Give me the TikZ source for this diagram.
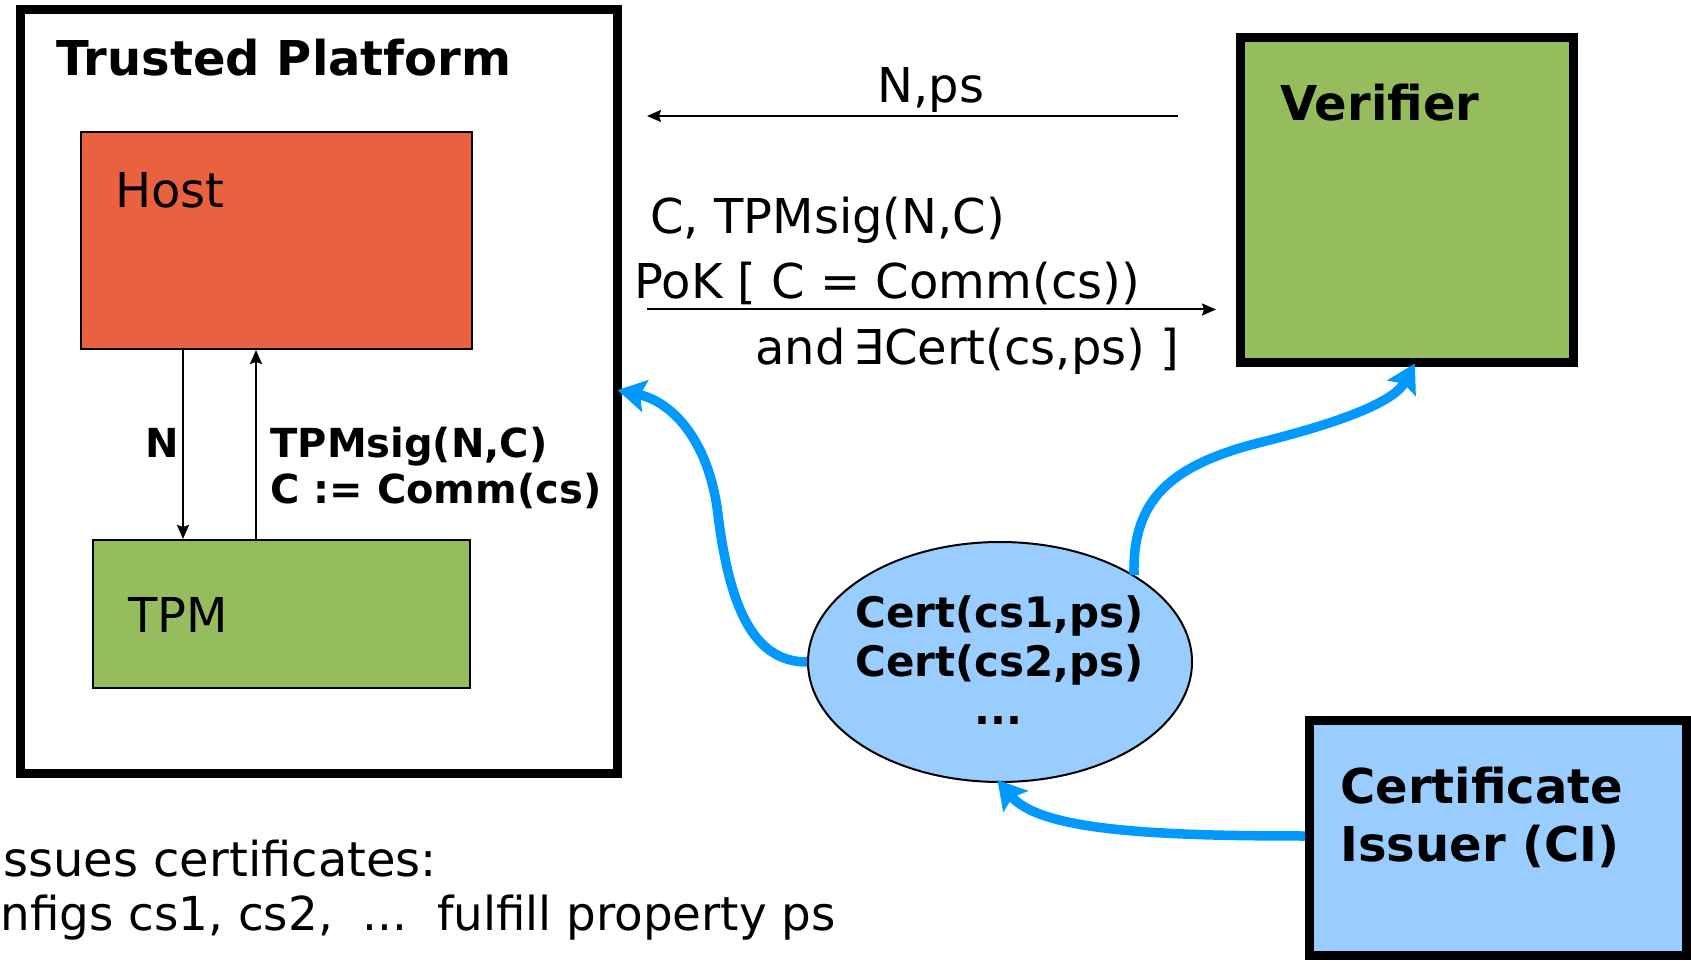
\documentclass[tikz,border=0pt]{standalone}
\usepackage{fontspec}
\setmainfont{DejaVu Sans}
\usetikzlibrary{arrows.meta,shapes.geometric}
\definecolor{hostred}{HTML}{EA6140}
\definecolor{tpmgreen}{HTML}{95BD5E}
\definecolor{certblue}{HTML}{99CCFF}
\definecolor{flowblue}{HTML}{0099FF}
\tikzset{
  heavybox/.style={draw=black, line width=4.5pt, rectangle, inner sep=0pt},
  thinbox/.style={draw=black, line width=1pt, rectangle, inner sep=0pt},
  lbl/.style={inner sep=0pt, anchor=base west},
  clbl/.style={inner sep=0pt, anchor=base},
  txt/.style={font=\fontsize{24}{28}\selectfont},
  ntxt/.style={font=\fontsize{23.4}{28}\selectfont},
  btxt/.style={font=\fontsize{24}{28}\selectfont\bfseries},
  stxt/.style={font=\fontsize{20}{24}\selectfont\bfseries},
  cbtxt/.style={font=\fontsize{24}{28}\selectfont\bfseries},
  etxt/.style={font=\fontsize{21}{25}\selectfont\bfseries},
  msg/.style={draw=black, line width=1pt, -{Stealth[length=7pt,width=6pt,inset=1pt]}},
  flow/.style={draw=flowblue, line width=4.75pt, shorten >=-2pt,
    -{Stealth[length=14pt,width=16pt,inset=2.5pt]}},
}
\begin{document}
\begin{tikzpicture}[x=0.5pt,y=-0.5pt]
\path[use as bounding box, fill=white] (0,0) rectangle (1691,961);

% trusted platform with host and TPM
\node[heavybox, minimum width=298.25pt, minimum height=381.5pt] (tp) at (318.75,391.5) {};
\node[lbl, btxt] (tptitle) at (56,75.5) {Trusted Platform};
\node[thinbox, fill=hostred, minimum width=195.5pt, minimum height=108.5pt] (host) at (276.5,240.5) {};
\node[lbl, txt] (hostlbl) at (115,208) {Host};
\node[thinbox, fill=tpmgreen, minimum width=188.5pt, minimum height=74pt] (tpm) at (281.5,614) {};
\node[lbl, txt] (tpmlbl) at (128,633) {TPM};

\coordinate (nx) at (183,0);
\coordinate (sx) at (256,0);
\draw[msg] (nx |- host.south) -- (nx |- tpm.north);
\draw[msg] (sx |- tpm.north) -- (sx |- host.south);
\node[lbl, stxt] (nlbl) at (145,458) {N};
\node[lbl, stxt] (sig1) at (270,458) {TPMsig(N,C)};
\node[lbl, stxt] (sig2) at (270,504) {C := Comm(cs)};

% verifier and protocol messages
\node[heavybox, fill=tpmgreen, minimum width=166.5pt, minimum height=162.5pt] (ver) at (1407,200) {};
\node[lbl, btxt] (verlbl) at (1280,121) {Verifier};

\coordinate (npsR) at (1178,116);
\coordinate (npsL) at (647,116);
\draw[msg] (npsR) -- (npsL);
\node[clbl, txt] (npslbl) at (931,102.5) {N,ps};

\coordinate (pokL) at (647,309.5);
\coordinate (pokR) at (1216,309.5);
\draw[msg] (pokL) -- (pokR);
\node[lbl, txt] (m1) at (650,234) {C, TPMsig(N,C)};
\node[lbl, txt] (m2) at (634,299) {PoK [ C = Comm(cs))};
\node[lbl, txt] (m3) at (755,364.5) {and\,∃Cert(cs,ps) ]};

% certificates and issuer
\node[ellipse, draw=black, line width=1pt, fill=certblue, minimum width=192pt, minimum height=120pt, inner sep=0pt] (cert) at (1000,662) {};
\node[clbl, etxt] (c1) at (999.5,628) {Cert(cs1,ps)};
\node[clbl, etxt] (c2) at (999.5,676) {Cert(cs2,ps)};
\node[clbl, etxt] (c3) at (998.5,725) {...};

\node[heavybox, fill=certblue, minimum width=188.5pt, minimum height=117.5pt] (ci) at (1498,838) {};
\node[lbl, cbtxt] (ci1) at (1340,803) {Certificate};
\node[lbl, cbtxt] (ci2) at (1340,861) {Issuer (CI)};

\node[lbl, txt] (b1) at (3,876) {ssues certificates:};
\node[lbl, ntxt] (b2) at (0,930) {nfigs cs1, cs2,\ \ ...\ \ fulfill property ps};

% certificate flows
\coordinate (tpy) at (0,391);
\coordinate (vx) at (1413,0);
\coordinate (ciy) at (0,836);
\draw[flow] (cert.west) .. controls (750,662) and (728,600) .. (717,507)
  .. controls (705,430) and (665,400) .. (tp.east |- tpy);
\draw[flow] (cert.33) .. controls (1132,500) and (1170,465) .. (1262,442)
  .. controls (1350,420) and (1395,400) .. (vx |- ver.south);
\draw[flow] (ci.west |- ciy) .. controls (1150,836) and (1040,830) .. (cert.south);
\end{tikzpicture}
\end{document}
